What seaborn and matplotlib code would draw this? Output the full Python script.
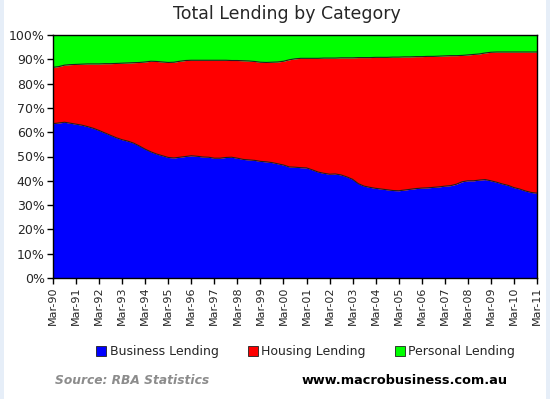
import numpy as np
import pandas as pd
import seaborn as sns
import matplotlib.pyplot as plt
from matplotlib.patches import Patch, Rectangle

# %% DATA (shares of total lending, %, quarterly Mar-90 .. Mar-11)

years = [f"Mar-{y % 100:02d}" for y in range(1990, 2012)]

business = [
    63.5, 63.8, 64.1, 63.7, 63.3, 62.9, 62.3, 61.6, 60.7, 59.7,
    58.7, 57.7, 56.9, 56.3, 55.5, 54.3, 53.0, 51.9, 51.0, 50.3,
    49.6, 49.4, 49.7, 50.0, 50.3, 50.1, 49.8, 49.7, 49.3, 49.3,
    49.6, 49.7, 49.3, 48.8, 48.6, 48.4, 48.0, 47.8, 47.5, 47.0,
    46.5, 45.7, 45.6, 45.4, 45.3, 44.5, 43.6, 43.1, 42.7, 42.8,
    42.4, 41.6, 40.6, 38.8, 37.8, 37.3, 36.9, 36.6, 36.3, 36.0,
    35.9, 36.2, 36.5, 36.8, 37.0, 37.1, 37.3, 37.5, 37.8, 38.0,
    38.6, 39.6, 40.0, 40.0, 40.3, 40.5, 40.0, 39.4, 38.7, 38.1,
    37.2, 36.6, 35.8, 35.2, 34.9,
]
housing = [
    23.2, 23.2, 23.5, 24.1, 24.6, 25.1, 25.8, 26.5, 27.4, 28.5,
    29.5, 30.6, 31.5, 32.2, 33.1, 34.4, 35.9, 37.3, 38.1, 38.6,
    39.1, 39.4, 39.5, 39.5, 39.3, 39.5, 39.8, 39.9, 40.3, 40.3,
    40.0, 39.8, 40.2, 40.6, 40.7, 40.7, 40.8, 40.9, 41.3, 41.9,
    42.7, 44.1, 44.6, 45.0, 45.1, 45.9, 46.8, 47.4, 47.8, 47.7,
    48.2, 49.0, 50.0, 51.9, 52.9, 53.4, 53.9, 54.2, 54.5, 54.9,
    55.0, 54.8, 54.5, 54.3, 54.1, 54.1, 53.9, 53.8, 53.6, 53.5,
    52.9, 52.0, 51.8, 52.0, 51.9, 52.1, 52.9, 53.6, 54.3, 54.9,
    55.8, 56.4, 57.2, 57.8, 58.1,
]
personal = [
    13.3, 13.0, 12.4, 12.2, 12.1, 12.0, 11.9, 11.9, 11.9, 11.8,
    11.8, 11.7, 11.6, 11.5, 11.4, 11.3, 11.1, 10.8, 10.9, 11.1,
    11.3, 11.2, 10.8, 10.5, 10.4, 10.4, 10.4, 10.4, 10.4, 10.4,
    10.4, 10.5, 10.5, 10.6, 10.7, 10.9, 11.2, 11.3, 11.2, 11.1,
    10.8, 10.2, 9.8, 9.6, 9.6, 9.6, 9.6, 9.5, 9.5, 9.5,
    9.4, 9.4, 9.4, 9.3, 9.3, 9.3, 9.2, 9.2, 9.2, 9.1,
    9.1, 9.0, 9.0, 8.9, 8.9, 8.8, 8.8, 8.7, 8.6, 8.5,
    8.5, 8.4, 8.2, 8.0, 7.8, 7.4, 7.1, 7.0, 7.0, 7.0,
    7.0, 7.0, 7.0, 7.0, 7.0,
]

data = pd.DataFrame({
    'Quarter': np.arange(len(business)),
    'Business Lending': business,
    'Housing Lending': housing,
    'Personal Lending': personal,
})
data['Bus_top'] = data['Business Lending']
data['Hou_top'] = data['Bus_top'] + data['Housing Lending']

colours = ['#0000ff', '#ff0000', '#00ff00']
labels = ['Business Lending', 'Housing Lending', 'Personal Lending']

# %% PLOT

sns.set_style('white')
plt.rcParams['font.family'] = ['DejaVu Sans']

fig = plt.figure(figsize=(5.5, 3.99), dpi=100)
ax = fig.add_axes([53 / 550, 1 - 278 / 399, 484 / 550, 243 / 399])

ax.stackplot(data['Quarter'], data['Business Lending'], data['Housing Lending'],
             data['Personal Lending'], colors=colours, lw=0)
for col in ['Bus_top', 'Hou_top']:
    sns.lineplot(data=data, x='Quarter', y=col, color='#202020', lw=0.8, ax=ax)

ax.set_xlim(0, len(business) - 1)
ax.set_ylim(0, 100)
ax.set_xticks(np.arange(0, len(business), 4))
ax.set_xticklabels(years, rotation=90, fontsize=8)
ax.set_yticks(range(0, 101, 10))
ax.set_yticklabels([f"{v}%" for v in range(0, 101, 10)], fontsize=9)
ax.tick_params(axis='both', direction='out', length=4, width=1, color='black',
               bottom=True, left=True, pad=2)
ax.set_xlabel('')
ax.set_ylabel('')
for s in ax.spines.values():
    s.set_color('black')
    s.set_linewidth(1)

fig.text(0.522, 0.965, 'Total Lending by Category', ha='center', va='center', fontsize=12.5)

handles = [Patch(facecolor=c, edgecolor='#202020', lw=0.6) for c in colours]
fig.legend(handles, labels, loc='center', bbox_to_anchor=(0.556, 0.118), ncol=3,
           frameon=False, fontsize=9, handlelength=0.8, handleheight=0.8,
           handletextpad=0.3, columnspacing=2.3)

fig.text(55 / 550, 1 - 381 / 399, 'Source: RBA Statistics', ha='left', va='center',
         fontsize=8.8, style='italic', weight='bold', color='#8c8c8c')
fig.text(508 / 550, 1 - 381 / 399, 'www.macrobusiness.com.au', ha='right', va='center',
         fontsize=9.3, weight='bold', color='black')

# light frame at the figure edges
fig.patches.append(Rectangle((0, 0), 4 / 550, 1, transform=fig.transFigure,
                             facecolor='#e6eef8', edgecolor='none'))
fig.patches.append(Rectangle((546 / 550, 0), 4 / 550, 1, transform=fig.transFigure,
                             facecolor='#e6eef8', edgecolor='none'))

fig.savefig('out.png', dpi=100)
